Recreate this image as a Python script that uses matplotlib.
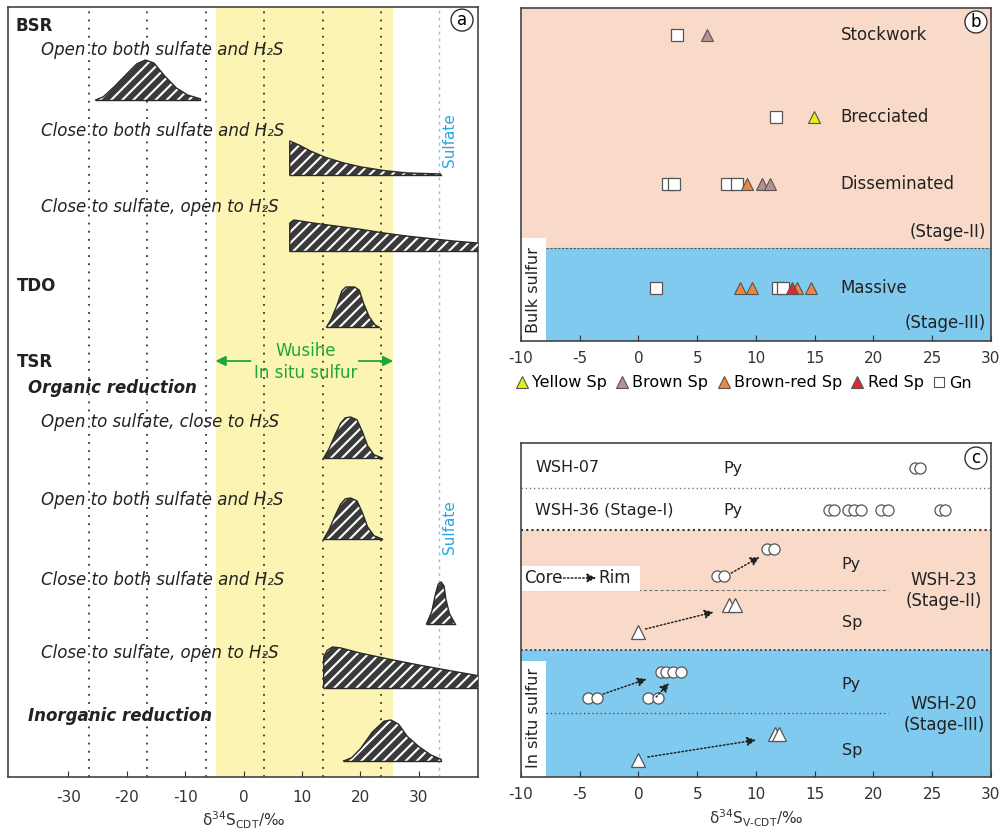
import matplotlib.pyplot as plt
from matplotlib.lines import Line2D
from matplotlib.patches import Rectangle

plt.rcParams['font.family'] = 'DejaVu Sans'
plt.rcParams['axes.unicode_minus'] = False
plt.rcParams['hatch.color'] = 'white'
plt.rcParams['hatch.linewidth'] = 1.5

# ---- panel a: schematic d34S distributions (x in permil, relative height) ----
bsr_open_x = [-25.3, -24.0, -22.0, -20.0, -18.3, -16.8, -15.3, -13.5, -11.5, -9.5, -7.4, -7.4]
bsr_open_h = [0.0, 0.08, 0.35, 0.65, 0.9, 1.0, 0.92, 0.6, 0.3, 0.12, 0.03, 0.0]
bsr_close_x = [7.9, 7.9, 9.5, 11.5, 14.0, 17.0, 20.0, 24.0, 28.0, 33.7, 33.7]
bsr_close_h = [0.0, 1.0, 0.88, 0.7, 0.52, 0.36, 0.24, 0.13, 0.06, 0.03, 0.0]
bsr_semi_x = [7.9, 7.9, 8.6, 12.0, 16.0, 20.0, 24.0, 28.0, 32.0, 36.0, 40.5, 40.5]
bsr_semi_h = [0.0, 0.9, 1.0, 0.9, 0.8, 0.7, 0.58, 0.48, 0.4, 0.32, 0.25, 0.0]
tdo_x = [14.2, 15.0, 16.0, 16.8, 17.5, 19.0, 19.8, 20.5, 21.5, 22.5, 23.1]
tdo_h = [0.0, 0.2, 0.55, 0.9, 1.0, 1.0, 0.92, 0.6, 0.25, 0.05, 0.0]
tsr_org_x = [13.7, 14.6, 15.6, 16.6, 17.4, 18.3, 19.4, 20.3, 21.2, 22.3, 23.7]
tsr_org_h = [0.0, 0.22, 0.55, 0.85, 0.98, 1.0, 0.93, 0.65, 0.3, 0.08, 0.0]
tsr_close_x = [31.3, 32.2, 32.8, 33.3, 33.8, 34.3, 34.6, 35.2, 36.2]
tsr_close_h = [0.0, 0.3, 0.7, 0.95, 1.0, 0.9, 0.6, 0.25, 0.0]
tsr_semi_x = [13.7, 13.7, 14.3, 15.2, 16.5, 20.0, 25.0, 30.0, 35.0, 40.5, 40.5]
tsr_semi_h = [0.0, 0.75, 0.92, 1.0, 0.98, 0.85, 0.7, 0.56, 0.43, 0.29, 0.0]
tsr_inorg_x = [17.1, 18.5, 20.0, 22.0, 24.0, 25.2, 26.5, 28.0, 30.0, 32.0, 33.8, 33.8]
tsr_inorg_h = [0.0, 0.08, 0.3, 0.7, 0.97, 1.0, 0.9, 0.6, 0.35, 0.15, 0.04, 0.0]

a_labels = ['BSR', 'Open to both sulfate and H₂S', 'Close to both sulfate and H₂S',
            'Close to sulfate, open to H₂S', 'TDO', 'TSR', 'Organic reduction',
            'Open to sulfate, close to H₂S', 'Open to both sulfate and H₂S',
            'Close to both sulfate and H₂S', 'Close to sulfate, open to H₂S',
            'Inorganic reduction']
a_xticks = [-30, -20, -10, 0, 10, 20, 30]
a_guides = [-26.5, -16.5, -6.5, 3.5, 13.5, 23.5]
insitu_range = [-4.8, 25.6]

# ---- panel b: bulk sulfur ----
b_rows = ['Stockwork', 'Brecciated', 'Disseminated', 'Massive']
b_gn = [[3.3], [11.7], [2.55, 3.0, 7.5, 8.35], [1.45, 11.9, 12.3]]
b_yellow = [[], [14.9], [], []]
b_brown = [[5.85], [], [10.5, 11.2], []]
b_brownred = [[], [], [9.25], [8.6, 9.7, 13.45, 14.7]]
b_red = [[], [], [], [13.1]]

# ---- panel c: in situ sulfur ----
c07_py = [23.5, 24.0]
c36_py = [16.2, 16.6, 17.8, 18.3, 18.9, 20.6, 21.2, 25.7, 26.1]
c23_py_core = [6.7, 7.3]
c23_py_rim = [10.95, 11.5]
c23_sp_core = [0.0]
c23_sp_rim = [7.7, 8.25]
c20_py_core = [-4.3, -3.5, 0.8, 1.7]
c20_py_rim = [1.9, 2.35, 2.9, 3.6]
c20_sp_core = [0.0]
c20_sp_rim = [11.6, 12.0]

fig = plt.figure(figsize=(10.03, 8.35), dpi=100)
W, H = 1003, 835
ax_a = fig.add_axes([8 / W, (H - 777) / H, 470 / W, 770 / H])
ax_b = fig.add_axes([521 / W, (H - 341) / H, 470 / W, 333 / H])
ax_c = fig.add_axes([521 / W, (H - 777) / H, 470 / W, 334 / H])

frame = '#444444'
shape_fc = '#3a3a3a'
salmon = '#f9dac9'
blue = '#80c9ef'
sky = '#2aa6df'
green = '#1ea63c'

# ================= panel a =================
ax = ax_a
ax.set_xlim(-40.3, 40.1)
ax.set_ylim(777, 7)
ax.axvspan(insitu_range[0], insitu_range[1], color='#fcf4b2', lw=0, zorder=0)
for xv in a_guides:
    ax.axvline(xv, color='#333333', ls=(0, (1, 3.5)), lw=1.3, zorder=1)
ax.axvline(33.5, color='#7cc6ea', ls=(0, (2, 3)), lw=1.0, zorder=1)

shapes = [(bsr_open_x, bsr_open_h, 100, 40), (bsr_close_x, bsr_close_h, 175, 34),
          (bsr_semi_x, bsr_semi_h, 251, 31), (tdo_x, tdo_h, 327, 40),
          (tsr_org_x, tsr_org_h, 458, 41), (tsr_org_x, tsr_org_h, 539, 41),
          (tsr_close_x, tsr_close_h, 624, 42), (tsr_semi_x, tsr_semi_h, 688, 41),
          (tsr_inorg_x, tsr_inorg_h, 761, 41)]
for xs, hs, base, height in shapes:
    ys = [base - h * height for h in hs]
    ax.fill_between(xs, base, ys, facecolor=shape_fc, edgecolor='white',
                    hatch='///', linewidth=0, zorder=3)
    ax.plot(xs, ys, color='#2a2a2a', lw=1.0, zorder=4)
    ax.plot([xs[0], xs[-1]], [base, base], color='#2a2a2a', lw=1.0, zorder=4)

label_y = [26, 50, 131, 207, 286, 362, 388, 422, 500, 580, 653, 716]
label_x = [-39.0, -34.7, -34.7, -34.7, -38.8, -38.8, -36.8, -34.7, -34.7, -34.7, -34.7, -36.8]
label_style = ['bold', 'italic', 'italic', 'italic', 'bold', 'bold', 'bolditalic',
               'italic', 'italic', 'italic', 'italic', 'bolditalic']
for t, xx, yy, st in zip(a_labels, label_x, label_y, label_style):
    ax.text(xx, yy, t, fontsize=12, va='center', ha='left', color='#222222',
            fontweight='bold' if 'bold' in st else 'normal',
            fontstyle='italic' if 'italic' in st else 'normal', zorder=5)

ax.text(35.3, 140, 'Sulfate', rotation=90, color=sky, fontsize=11, ha='center', va='center')
ax.text(35.3, 527, 'Sulfate', rotation=90, color=sky, fontsize=11, ha='center', va='center')
ax.text(10.6, 351, 'Wusihe', color=green, fontsize=12, ha='center', va='center')
ax.text(10.6, 373, 'In situ sulfur', color=green, fontsize=12, ha='center', va='center')
ax.annotate('', xy=(insitu_range[0], 361), xytext=(1.2, 361),
            arrowprops=dict(arrowstyle='-|>', color=green, lw=1.3, mutation_scale=15,
                            shrinkA=0, shrinkB=0))
ax.annotate('', xy=(insitu_range[1], 361), xytext=(19.7, 361),
            arrowprops=dict(arrowstyle='-|>', color=green, lw=1.3, mutation_scale=15,
                            shrinkA=0, shrinkB=0))

ax.set_xticks(a_xticks)
ax.set_yticks([])
ax.tick_params(axis='x', direction='in', length=4, labelsize=11, pad=9, colors='#333333')
ax.set_xlabel('δ$^{34}$S$_{\\rm CDT}$/‰', fontsize=11, labelpad=4, color='#333333')
ax.text(0.966, 0.983, 'a', transform=ax.transAxes, fontsize=12, ha='center', va='center',
        bbox=dict(boxstyle='circle,pad=0.12', fc='white', ec='#333333', lw=1))

# ================= panel b =================
ax = ax_b
ax.set_xlim(-10, 30)
ax.set_ylim(341, 8)
ax.axhspan(8, 248, color=salmon, lw=0, zorder=0)
ax.axhspan(248, 341, color=blue, lw=0, zorder=0)
ax.add_patch(Rectangle((-10, 238), 2.1, 103, fc='white', ec='none', zorder=1))
ax.plot([-7.9, 30], [248, 248], color='#555555', ls=(0, (2, 1.5)), lw=0.8, zorder=1)
ax.text(-8.95, 290, 'Bulk sulfur', rotation=90, fontsize=11.5, ha='center', va='center',
        color='#222222', zorder=2)

b_row_y = [35, 117, 184, 288]
tri = dict(marker='^', ms=9, mec='#555555', mew=0.8, ls='none', zorder=4)
sq = dict(marker='s', ms=8.5, mfc='white', mec='#555555', mew=0.9, ls='none', zorder=3)
for i, yy in enumerate(b_row_y):
    ax.plot(b_gn[i], [yy] * len(b_gn[i]), **sq)
    ax.plot(b_yellow[i], [yy] * len(b_yellow[i]), mfc='#e4ef12', **tri)
    ax.plot(b_brown[i], [yy] * len(b_brown[i]), mfc='#b98f92', **tri)
    ax.plot(b_brownred[i], [yy] * len(b_brownred[i]), mfc='#ec8640', **tri)
    ax.plot(b_red[i], [yy] * len(b_red[i]), mfc='#e3262f', **tri)
    ax.text(17.2, yy, b_rows[i], fontsize=12, ha='left', va='center', color='#222222')
ax.text(29.6, 232, '(Stage-II)', fontsize=12, ha='right', va='center', color='#222222')
ax.text(29.6, 323, '(Stage-III)', fontsize=12, ha='right', va='center', color='#222222')
ax.set_xticks(range(-10, 31, 5))
ax.set_yticks([])
ax.tick_params(axis='x', direction='in', length=4, labelsize=11, pad=7, colors='#333333')
ax.text(0.968, 0.958, 'b', transform=ax.transAxes, fontsize=12, ha='center', va='center',
        bbox=dict(boxstyle='circle,pad=0.12', fc='white', ec='#333333', lw=1))

handles = [Line2D([], [], marker='^', ms=9, mfc=c, mec='#555555', mew=0.8, ls='none')
           for c in ['#e4ef12', '#b98f92', '#ec8640', '#e3262f']]
handles.append(Line2D([], [], marker='s', ms=7, mfc='white', mec='#555555', mew=0.8, ls='none'))
fig.legend(handles, ['Yellow Sp', 'Brown Sp', 'Brown-red Sp', 'Red Sp', 'Gn'],
           loc='center left', bbox_to_anchor=(516 / W, 1 - 383 / H), ncol=5, frameon=False,
           fontsize=11.5, handlelength=0.7, handletextpad=0.3, columnspacing=0.6,
           borderaxespad=0, borderpad=0)

# ================= panel c =================
ax = ax_c
ax.set_xlim(-10, 30)
ax.set_ylim(777, 443)
ax.axhspan(530, 650, color=salmon, lw=0, zorder=0)
ax.axhspan(650, 777, color=blue, lw=0, zorder=0)
ax.add_patch(Rectangle((-10, 661), 2.1, 116, fc='white', ec='none', zorder=1))
ax.text(-8.95, 718, 'In situ sulfur', rotation=90, fontsize=11.5, ha='center', va='center',
        color='#222222', zorder=2)
ax.axhline(488, color='#777777', ls=(0, (1, 2)), lw=1.0, zorder=1)
ax.axhline(530, color='#333333', ls=(0, (1, 1.5)), lw=1.5, zorder=1)
ax.axhline(650, color='#333333', ls=(0, (1, 1.5)), lw=1.3, zorder=1)
ax.plot([-10, 21.2], [590, 590], color='#777777', ls=(0, (3, 2)), lw=0.8, zorder=1)
ax.plot([-7.9, 21.2], [713, 713], color='#555555', ls=(0, (1, 2)), lw=1.0, zorder=1)

circ = dict(marker='o', ms=8, mfc='white', mec='#555555', mew=0.9, ls='none', zorder=4)
trc = dict(marker='^', ms=10, mfc='white', mec='#555555', mew=0.9, ls='none', zorder=4)
ax.plot(c07_py, [468] * len(c07_py), **circ)
ax.plot(c36_py, [510] * len(c36_py), **circ)
ax.plot(c23_py_core, [576] * len(c23_py_core), **circ)
ax.plot(c23_py_rim, [549] * len(c23_py_rim), **circ)
ax.plot(c23_sp_core, [632] * len(c23_sp_core), **trc)
ax.plot(c23_sp_rim, [605] * len(c23_sp_rim), **trc)
ax.plot(c20_py_core, [698] * len(c20_py_core), **circ)
ax.plot(c20_py_rim, [672] * len(c20_py_rim), **circ)
ax.plot(c20_sp_core, [760] * len(c20_sp_core), **trc)
ax.plot(c20_sp_rim, [734] * len(c20_sp_rim), **trc)

arrows = [((7.9, 573), (10.3, 557)), ((0.6, 629), (6.4, 612)), ((-3.0, 694), (0.7, 679)),
          ((1.5, 697), (2.6, 683)), ((0.8, 757), (10.0, 740))]
for (x0, y0), (x1, y1) in arrows:
    ax.annotate('', xy=(x1, y1), xytext=(x0, y0), zorder=5,
                arrowprops=dict(arrowstyle='-|>', color='#222222', lw=1.1, ls=(0, (1, 1.5)),
                                mutation_scale=13, shrinkA=0, shrinkB=0))

ax.add_patch(Rectangle((-10, 566), 10.1, 25, fc='white', ec='none', zorder=2))
ax.text(-9.7, 578, 'Core', fontsize=12, ha='left', va='center', color='#222222', zorder=3)
ax.text(-3.4, 578, 'Rim', fontsize=12, ha='left', va='center', color='#222222', zorder=3)
ax.annotate('', xy=(-3.6, 578), xytext=(-6.7, 578), zorder=3,
            arrowprops=dict(arrowstyle='-|>', color='#222222', lw=1.1, ls=(0, (1, 1.5)),
                            mutation_scale=13, shrinkA=0, shrinkB=0))

for t, xx, yy in [('WSH-07', -8.8, 468), ('WSH-36 (Stage-I)', -8.8, 510),
                  ('Py', 7.2, 468), ('Py', 7.2, 510), ('Py', 17.3, 565), ('Sp', 17.3, 623),
                  ('Py', 17.3, 685), ('Sp', 17.3, 750)]:
    ax.text(xx, yy, t, fontsize=11.5, ha='left', va='center', color='#222222', zorder=3)
for t, yy in [('WSH-23', 580), ('(Stage-II)', 601), ('WSH-20', 704), ('(Stage-III)', 725)]:
    ax.text(26.0, yy, t, fontsize=12, ha='center', va='center', color='#222222', zorder=3)

ax.set_xticks(range(-10, 31, 5))
ax.set_yticks([])
ax.tick_params(axis='x', direction='in', length=4, labelsize=11, pad=7, colors='#333333')
ax.set_xlabel('δ$^{34}$S$_{\\rm V\\text{-}CDT}$/‰', fontsize=11, labelpad=4, color='#333333')
ax.text(0.968, 0.955, 'c', transform=ax.transAxes, fontsize=12, ha='center', va='center',
        bbox=dict(boxstyle='circle,pad=0.12', fc='white', ec='#333333', lw=1))

for a in (ax_a, ax_b, ax_c):
    for s in a.spines.values():
        s.set_color(frame)
        s.set_linewidth(1.2)

fig.savefig('out.png', dpi=100)
